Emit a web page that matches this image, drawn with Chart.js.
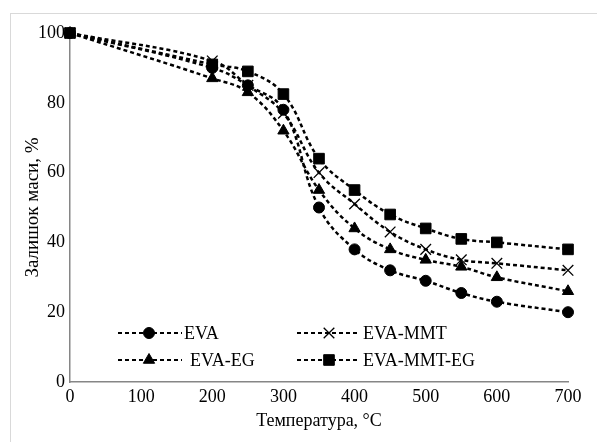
<!DOCTYPE html>
<html>
<head>
<meta charset="utf-8">
<script src="https://cdn.jsdelivr.net/npm/chart.js@4"></script>
<style>
  html, body { margin: 0; padding: 0; background: #fff; overflow: hidden; }
  #wrap { position: relative; width: 597px; height: 442px; }
  #frame { position: absolute; left: 10px; top: 13px; width: 700px; height: 600px; border: 1px solid #d9d9d9; }
  #chartCanvas { position: absolute; left: 0; top: 0; }
</style>
</head>
<body>
<div id="wrap">
  <div id="frame"></div>
  <canvas id="chartCanvas" width="597" height="442"></canvas>
</div>
<script>
// temperature points, °C
const temps = [0, 200, 250, 300, 350, 400, 450, 500, 550, 600, 700];

// residual mass, %
const eva      = [100, 90, 85, 78, 50, 38, 32, 29, 25.5, 23, 20];
const evaMmt   = [100, 92, 85, 77, 60, 51, 43, 38, 35, 34, 32];
const evaEg    = [100, 87, 83, 72, 55, 44, 38, 35, 33, 30, 26];
const evaMmtEg = [100, 91, 89, 82.5, 64, 55, 48, 44, 41, 40, 38];

const seriesNames = ['EVA', 'EVA-MMT', 'EVA-EG', 'EVA-MMT-EG'];

const xTicks = [0, 100, 200, 300, 400, 500, 600, 700];
const yTicks = [0, 20, 40, 60, 80, 100];

const serif = "'Liberation Serif', 'Times New Roman', serif";

function toPoints(vals) {
    return temps.map((t, i) => ({ x: t, y: vals[i] }));
}

function makeSet(label, vals, style, radius, order) {
    return {
        label: label,
        data: toPoints(vals),
        borderColor: '#000',
        backgroundColor: '#000',
        borderWidth: 2.5,
        borderDash: [4, 3],
        tension: 0.4,
        clip: false,
        pointStyle: style,
        pointRadius: radius,
        pointBorderWidth: style === 'crossRot' ? 1.3 : 1,
        pointBackgroundColor: '#000',
        pointBorderColor: '#000',
        order: order
    };
}

// legend drawn inside the plot, 2 x 2
const legendPos = [
    { line: [118, 182], mark: 149, text: 184, y: 333 },
    { line: [297, 358], mark: 329, text: 363, y: 333 },
    { line: [118, 182], mark: 149, text: 190, y: 360 },
    { line: [297, 358], mark: 329, text: 363, y: 360 }
];

const insideLegend = {
    id: 'insideLegend',
    afterDraw(chart) {
        const ctx = chart.ctx;
        chart.data.datasets.forEach((ds, i) => {
            const p = legendPos[i];
            ctx.save();
            ctx.strokeStyle = '#000';
            ctx.lineWidth = 2;
            ctx.setLineDash([4, 3]);
            ctx.beginPath();
            ctx.moveTo(p.line[0], p.y);
            ctx.lineTo(p.line[1], p.y);
            ctx.stroke();
            ctx.setLineDash([]);
            ctx.fillStyle = '#000';
            ctx.lineWidth = ds.pointBorderWidth;
            Chart.helpers.drawPoint(ctx, { pointStyle: ds.pointStyle, radius: ds.pointRadius, rotation: 0, borderWidth: ds.pointBorderWidth }, p.mark, p.y);
            ctx.font = '18px ' + serif;
            ctx.textBaseline = 'middle';
            ctx.textAlign = 'left';
            ctx.fillText(ds.label, p.text, p.y + 1);
            ctx.restore();
        });
    }
};

const canvas = document.getElementById('chartCanvas');
const ctx = canvas.getContext('2d');

new Chart(ctx, {
    type: 'line',
    data: {
        datasets: [
            makeSet(seriesNames[0], eva, 'circle', 5.5, 3),
            makeSet(seriesNames[1], evaMmt, 'crossRot', 7.5, 2),
            makeSet(seriesNames[2], evaEg, 'triangle', 6.5, 1),
            makeSet(seriesNames[3], evaMmtEg, 'rect', 7.5, 0)
        ]
    },
    options: {
        responsive: false,
        animation: false,
        layout: { padding: { left: 20, right: 29, top: 33, bottom: 0 } },
        plugins: {
            legend: { display: false },
            tooltip: { enabled: false }
        },
        scales: {
            x: {
                type: 'linear',
                min: 0,
                max: 700,
                afterBuildTicks: (scale) => { scale.ticks = xTicks.map(v => ({ value: v })); },
                afterFit: (scale) => { scale.height = 60; },
                grid: { display: false, drawTicks: false },
                border: { display: true, color: '#868686', width: 1.5 },
                ticks: { color: '#000', padding: 4, font: { family: serif, size: 18 } },
                title: {
                    display: true,
                    text: 'Температура, °C',
                    color: '#000',
                    font: { family: serif, size: 18 },
                    padding: { top: 2, bottom: 10 }
                }
            },
            y: {
                min: 0,
                max: 100,
                afterBuildTicks: (scale) => { scale.ticks = yTicks.map(v => ({ value: v })); },
                afterFit: (scale) => { scale.width = 50; },
                grid: { display: false, drawTicks: false },
                border: { display: true, color: '#868686', width: 1.5 },
                ticks: { color: '#000', padding: 5, font: { family: serif, size: 18 } },
                title: {
                    display: true,
                    text: 'Залишок маси, %',
                    color: '#000',
                    font: { family: serif, size: 19 },
                    padding: { top: 2, bottom: 2 }
                }
            }
        }
    },
    plugins: [insideLegend]
});
</script>
</body>
</html>
